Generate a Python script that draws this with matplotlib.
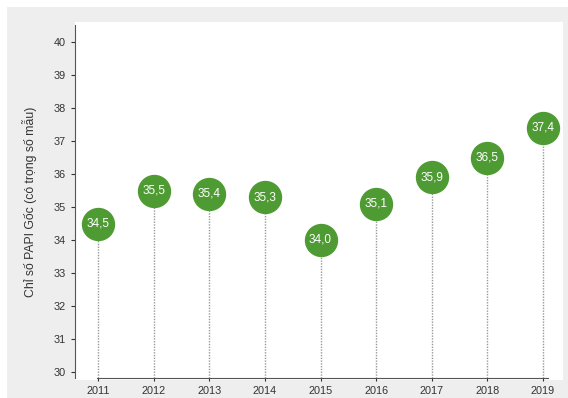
import matplotlib
matplotlib.use("Agg")
import matplotlib.pyplot as plt
from matplotlib.patches import Rectangle

years = [2011, 2012, 2013, 2014, 2015, 2016, 2017, 2018, 2019]
values = [34.5, 35.5, 35.4, 35.3, 34.0, 35.1, 35.9, 36.5, 37.4]
labels = ["34,5", "35,5", "35,4", "35,3", "34,0", "35,1", "35,9", "36,5", "37,4"]
yticks = [30, 31, 32, 33, 34, 35, 36, 37, 38, 39, 40]
ylabel = "Chỉ số PAPI Gốc (có trọng số mẫu)"

W, H = 568, 398
plt.rcParams['font.family'] = ['Liberation Sans', 'DejaVu Sans']
fig = plt.figure(figsize=(W / 100, H / 100), dpi=100, facecolor="white")

def fx(p):
    return p / W

def fy(p):
    return 1 - p / H

# gray frame and white plot background
fig.add_artist(Rectangle((fx(7), 0), 1 - fx(7), fy(7), transform=fig.transFigure,
                         facecolor="#eeeeee", edgecolor="none", zorder=-2))
fig.add_artist(Rectangle((fx(75), fy(380)), fx(563) - fx(75), fy(22) - fy(380),
                         transform=fig.transFigure, facecolor="white",
                         edgecolor="none", zorder=-1))

ax = fig.add_axes([fx(75), fy(378), fx(548) - fx(75), fy(25) - fy(378)])
ax.set_zorder(5)
ax.patch.set_alpha(0)
ylo = 30 - 6 / 33
yhi = 30 + 347 / 33
xlo = 2011 - 23 / 55.625
xhi = 2019 + 5 / 55.625
ax.set_ylim(ylo, yhi)
ax.set_xlim(xlo, xhi)

for x, v, lab in zip(years, values, labels):
    ax.plot([x, x], [ylo, v], linestyle=(0, (1, 1)), color="#999999", lw=1, zorder=2)
    ax.plot([x], [v], "o", markersize=23, color="#4f9b33", markeredgecolor="#4f9b33",
            zorder=3, clip_on=False)
    ax.text(x, v, lab, ha="center", va="center", color="white", fontsize=8.5, zorder=4)

ax.set_yticks(yticks)
ax.set_xticks(years)
ax.tick_params(axis="both", labelsize=7.8, colors="#333333", length=3, width=0.8)
ax.tick_params(axis="x", length=2)
for s in ["top", "right"]:
    ax.spines[s].set_visible(False)
ax.spines["left"].set_color("#555555")
ax.spines["bottom"].set_color("#555555")
ax.spines["bottom"].set_bounds(2011 - 1 / 55.625, xhi)
ax.set_ylabel(ylabel, fontsize=8.8, color="#333333", labelpad=12)

fig.savefig("out.png", dpi=100, facecolor="white")
